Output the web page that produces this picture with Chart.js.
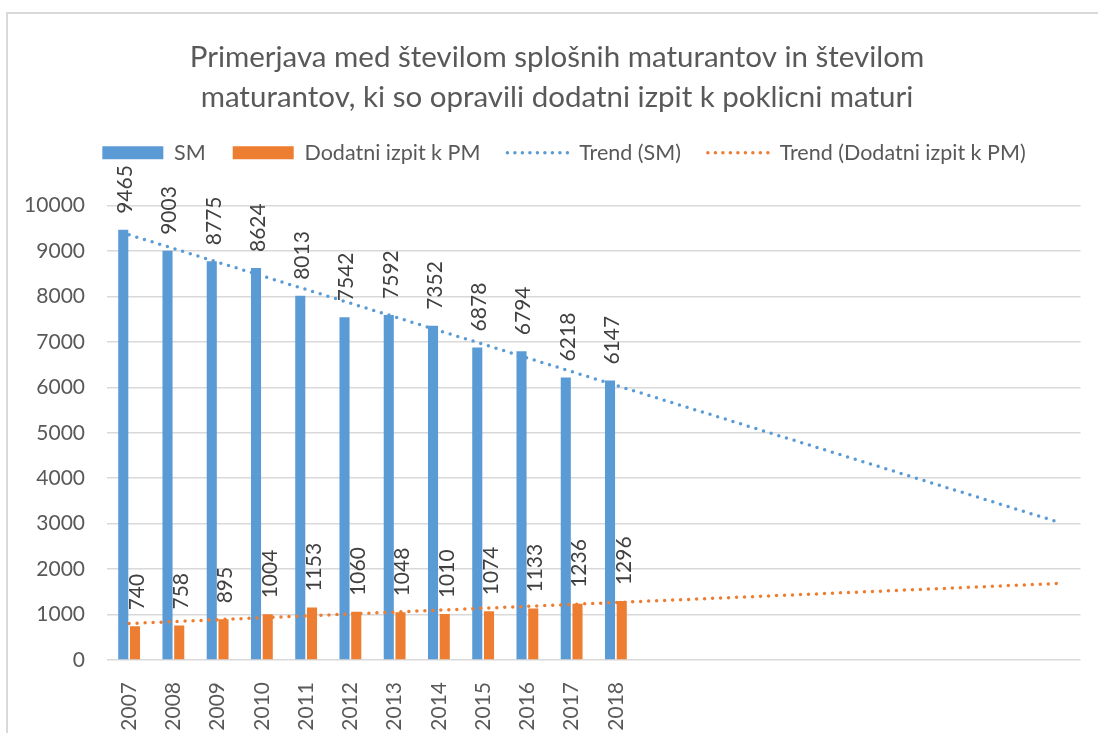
<!DOCTYPE html>
<html>
<head>
<meta charset="utf-8">
<script src="https://cdn.jsdelivr.net/npm/chart.js@4.4.1/dist/chart.umd.min.js"></script>
<style>
  html, body { margin: 0; padding: 0; background: #fff; }
  #wrap { position: relative; width: 1098px; height: 733px; overflow: hidden; }
  #frame { position: absolute; left: 6px; top: 12px; right: -10px; bottom: -10px;
           border-left: 2px solid #d9d9d9; border-top: 2px solid #d9d9d9; }
  #chart { position: absolute; left: 0; top: 0; }
</style>
</head>
<body>
<div id="wrap">
  <div id="frame"></div>
  <canvas id="chart" width="1098" height="733"></canvas>
</div>
<script>
const years = ["2007","2008","2009","2010","2011","2012","2013","2014","2015","2016","2017","2018"];
// trend is forecast 10 periods forward, those categories have no label
const forecastLabels = ["","","","","","","","","",""];
const smValues = [9465, 9003, 8775, 8624, 8013, 7542, 7592, 7352, 6878, 6794, 6218, 6147];
const pmValues = [740, 758, 895, 1004, 1153, 1060, 1048, 1010, 1074, 1133, 1236, 1296];
// trend line ends (value at first category, value at last forecast category)
const trendSM = [9356, 3034];
const trendPM = [803, 1684];
const yTicks = [0, 1000, 2000, 3000, 4000, 5000, 6000, 7000, 8000, 9000, 10000];

const titleLines = [
  "Primerjava med številom splošnih maturantov in številom",
  "maturantov, ki so opravili dodatni izpit k poklicni maturi"
];

const labels = years.concat(forecastLabels);
const lastIdx = labels.length - 1;

// line only has its two ends, the rest is left empty
function trendData(ends) {
  return labels.map((l, i) => (i === 0 ? ends[0] : i === lastIdx ? ends[1] : null));
}

Chart.defaults.font.family = 'Lato, "Liberation Sans", sans-serif';
Chart.defaults.color = "#595959";

const blue = "#5B9BD5";
const orange = "#ED7D31";

// value labels above bars, rotated like in excel
const barLabels = {
  id: "barLabels",
  afterDatasetsDraw(chart) {
    const ctx = chart.ctx;
    ctx.save();
    ctx.font = '21px Lato, "Liberation Sans", sans-serif';
    ctx.fillStyle = "#404040";
    ctx.textAlign = "left";
    ctx.textBaseline = "middle";
    chart.data.datasets.forEach((ds, i) => {
      if (ds.type !== "bar") return;
      chart.getDatasetMeta(i).data.forEach((bar, j) => {
        ctx.save();
        ctx.translate(bar.x + 2, bar.y - 16);
        ctx.rotate(-Math.PI / 2);
        ctx.fillText(String(ds.data[j]), 0, 0);
        ctx.restore();
      });
    });
    ctx.restore();
  }
};

// extra space under the legend, and title/legend nudged right a bit
const legendGap = {
  id: "legendGap",
  beforeInit(chart) {
    const fit = chart.legend.fit;
    chart.legend.fit = function () {
      fit.bind(chart.legend)();
      this.height += 32;
    };
  },
  afterLayout(chart) {
    chart.legend.left += 20;
    chart.legend.right += 20;
    chart.titleBlock.left += 13;
    chart.titleBlock.right += 13;
  }
};

const ctx = document.getElementById("chart").getContext("2d");

const myChart = new Chart(ctx, {
  type: "bar",
  data: {
    labels: labels,
    datasets: [
      {
        type: "bar",
        label: "SM",
        data: smValues,
        backgroundColor: blue,
        categoryPercentage: 0.53,
        barPercentage: 0.86,
        order: 1
      },
      {
        type: "bar",
        label: "Dodatni izpit k PM",
        data: pmValues,
        backgroundColor: orange,
        categoryPercentage: 0.53,
        barPercentage: 0.86,
        order: 1
      },
      {
        type: "line",
        label: "Trend (SM)",
        data: trendData(trendSM),
        spanGaps: true,
        borderColor: blue,
        backgroundColor: blue,
        borderWidth: 3.5,
        borderDash: [0, 8],
        borderCapStyle: "round",
        pointRadius: 0,
        fill: false,
        order: 0
      },
      {
        type: "line",
        label: "Trend (Dodatni izpit k PM)",
        data: trendData(trendPM),
        spanGaps: true,
        borderColor: orange,
        backgroundColor: orange,
        borderWidth: 3.5,
        borderDash: [0, 8],
        borderCapStyle: "round",
        pointRadius: 0,
        fill: false,
        order: 0
      }
    ]
  },
  options: {
    responsive: false,
    animation: false,
    devicePixelRatio: 1,
    layout: { padding: { left: 7, right: 17, top: 0, bottom: 0 } },
    plugins: {
      tooltip: { enabled: false },
      title: {
        display: true,
        text: titleLines,
        color: "#595959",
        font: { size: 29.5, weight: "normal", lineHeight: 40 / 29.5 },
        padding: { top: 37, bottom: -2 }
      },
      legend: {
        position: "top",
        labels: {
          usePointStyle: true,
          pointStyleWidth: 61,
          boxHeight: 13,
          padding: 27,
          color: "#595959",
          font: { size: 21.5 },
          generateLabels(chart) {
            return chart.data.datasets.map((ds, i) => ({
              text: ds.label,
              datasetIndex: i,
              fillStyle: ds.backgroundColor,
              strokeStyle: ds.backgroundColor,
              lineWidth: ds.type === "line" ? 3.5 : 0,
              lineDash: ds.type === "line" ? [0, 7.5] : [],
              lineCap: "round",
              pointStyle: ds.type === "line" ? "line" : "rect",
              fontColor: "#595959",
              hidden: false
            }));
          }
        }
      }
    },
    scales: {
      x: {
        grid: { display: false },
        border: { display: false },
        ticks: {
          autoSkip: false,
          minRotation: 90,
          maxRotation: 90,
          padding: 14,
          color: "#595959",
          font: { size: 21 }
        },
        afterFit(scale) { scale.height = 73; }
      },
      y: {
        min: yTicks[0],
        max: yTicks[yTicks.length - 1],
        afterBuildTicks(scale) { scale.ticks = yTicks.map(v => ({ value: v })); },
        grid: { color: "#d9d9d9", lineWidth: 1.5, drawTicks: false },
        border: { display: false },
        ticks: {
          padding: 22,
          color: "#595959",
          font: { size: 21 },
          callback: v => String(v)
        },
        afterFit(scale) { scale.width = 100; }
      }
    }
  },
  plugins: [barLabels, legendGap]
});
</script>
</body>
</html>
